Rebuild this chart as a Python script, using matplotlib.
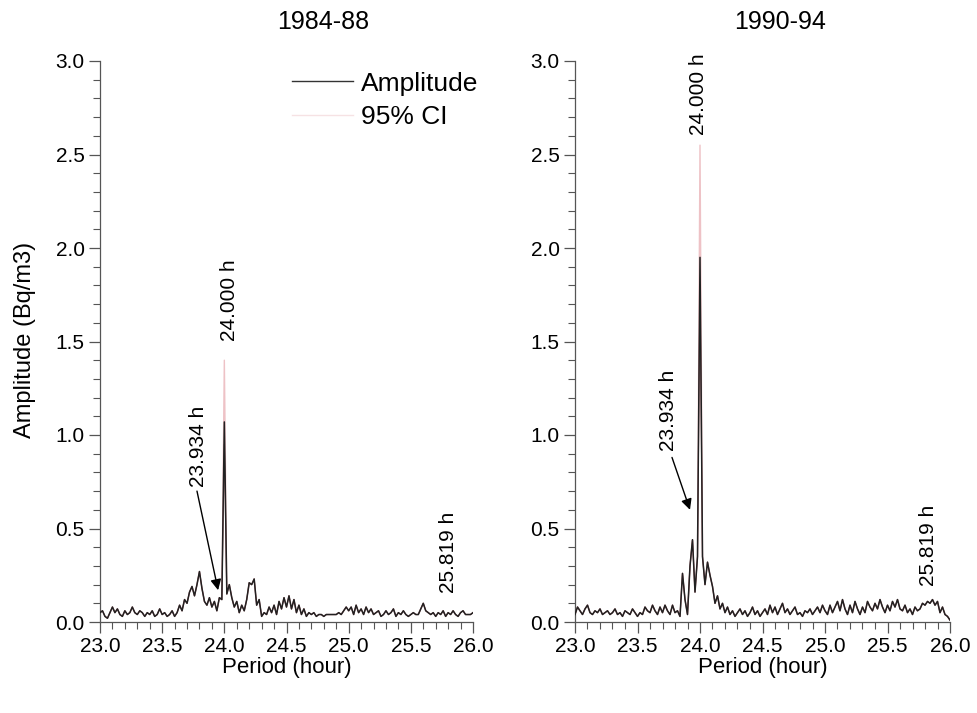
import numpy as np
import matplotlib
matplotlib.use("Agg")
import matplotlib.pyplot as plt
from matplotlib.ticker import MultipleLocator
from matplotlib.lines import Line2D

plt.rcParams['font.family'] = ['Liberation Sans', 'DejaVu Sans']

# Period grid (hours), 0.02 h steps from 23.0 to 26.0
period = np.round(np.linspace(23.0, 26.0, 151), 2)

# 1984-88 amplitude (Bq/m3)
amp_8488 = [
    0.05, 0.06, 0.03, 0.02, 0.05, 0.08, 0.05, 0.07, 0.04, 0.03,
    0.06, 0.04, 0.05, 0.08, 0.05, 0.04, 0.06, 0.05, 0.03, 0.05,
    0.04, 0.06, 0.03, 0.04, 0.07, 0.04, 0.05, 0.03, 0.04, 0.06,
    0.03, 0.05, 0.09, 0.06, 0.12, 0.10, 0.16, 0.19, 0.14, 0.20,
    0.27, 0.18, 0.11, 0.09, 0.13, 0.08, 0.11, 0.06, 0.13, 0.12,
    1.07, 0.15, 0.20, 0.13, 0.08, 0.11, 0.05, 0.09, 0.06, 0.12,
    0.21, 0.20, 0.23, 0.09, 0.12, 0.03, 0.05, 0.04, 0.08, 0.05,
    0.09, 0.04, 0.11, 0.07, 0.13, 0.08, 0.14, 0.07, 0.12, 0.05,
    0.09, 0.04, 0.07, 0.03, 0.05, 0.04, 0.05, 0.03, 0.04, 0.04,
    0.03, 0.04, 0.04, 0.04, 0.04, 0.04, 0.05, 0.04, 0.06, 0.08,
    0.06, 0.08, 0.04, 0.09, 0.05, 0.07, 0.04, 0.08, 0.05, 0.07,
    0.04, 0.05, 0.06, 0.03, 0.04, 0.06, 0.04, 0.05, 0.07, 0.03,
    0.05, 0.04, 0.06, 0.04, 0.03, 0.04, 0.05, 0.04, 0.04, 0.07,
    0.10, 0.06, 0.05, 0.04, 0.05, 0.03, 0.05, 0.04, 0.06, 0.03,
    0.05, 0.04, 0.06, 0.04, 0.03, 0.05, 0.06, 0.04, 0.04, 0.04,
    0.05,
]

# 1990-94 amplitude (Bq/m3)
amp_9094 = [
    0.04, 0.08, 0.06, 0.04, 0.07, 0.09, 0.05, 0.04, 0.06, 0.05,
    0.07, 0.04, 0.05, 0.06, 0.04, 0.05, 0.07, 0.04, 0.05, 0.03,
    0.06, 0.05, 0.04, 0.07, 0.05, 0.03, 0.05, 0.04, 0.08, 0.06,
    0.05, 0.09, 0.06, 0.04, 0.08, 0.05, 0.09, 0.06, 0.04, 0.09,
    0.05, 0.06, 0.03, 0.26, 0.12, 0.04, 0.30, 0.44, 0.16, 0.35,
    1.95, 0.35, 0.20, 0.32, 0.25, 0.19, 0.10, 0.14, 0.07, 0.10,
    0.05, 0.08, 0.04, 0.06, 0.03, 0.05, 0.07, 0.04, 0.06, 0.03,
    0.05, 0.08, 0.04, 0.06, 0.03, 0.05, 0.07, 0.04, 0.09, 0.05,
    0.08, 0.04, 0.07, 0.10, 0.05, 0.07, 0.04, 0.06, 0.08, 0.04,
    0.05, 0.03, 0.06, 0.05, 0.07, 0.04, 0.06, 0.08, 0.05, 0.09,
    0.06, 0.04, 0.09, 0.05, 0.08, 0.11, 0.06, 0.12, 0.07, 0.04,
    0.09, 0.05, 0.11, 0.07, 0.04, 0.08, 0.05, 0.11, 0.08, 0.06,
    0.10, 0.07, 0.12, 0.08, 0.05, 0.09, 0.06, 0.11, 0.08, 0.12,
    0.07, 0.06, 0.09, 0.05, 0.07, 0.04, 0.08, 0.06, 0.07, 0.10,
    0.09, 0.11, 0.10, 0.12, 0.09, 0.11, 0.05, 0.08, 0.04, 0.03,
    0.01,
]

# 95% CI bounds at the 24.000 h peak
ci_peak_8488 = (0.95, 1.40)
ci_peak_9094 = (1.80, 2.55)

panels = [
    dict(title="1984-88", amp=amp_8488, ci=ci_peak_8488,
         rect=[100/977, 1-622/713, 373/977, 561/713], title_x=323,
         lab24=(24.04, 1.72), lab23=(23.79, 0.94), arrow=((23.78, 0.70), (23.95, 0.17)),
         lab25=(25.80, 0.37)),
    dict(title="1990-94", amp=amp_9094, ci=ci_peak_9094,
         rect=[575/977, 1-622/713, 375/977, 561/713], title_x=780,
         lab24=(23.99, 2.82), lab23=(23.745, 1.13), arrow=((23.776, 0.88), (23.92, 0.60)),
         lab25=(25.83, 0.41)),
]

fig = plt.figure(figsize=(9.77, 7.13), dpi=100)
ci_col = "#eec2c6"
spine_col = "#555555"

for i, p in enumerate(panels):
    ax = fig.add_axes(p["rect"])
    amp = np.array(p["amp"])
    k = int(np.argmin(np.abs(period - 24.0)))
    lo = amp.copy()
    hi = amp.copy()
    lo[k], hi[k] = p["ci"]

    ax.plot(period, hi, color=ci_col, lw=1.0, zorder=2)
    ax.plot(period, lo, color="#b0606a", lw=0.8, zorder=2)
    ax.plot(period, amp, color="#222222", lw=1.1, zorder=3)

    ax.set_xlim(23.0, 26.0)
    ax.set_ylim(0.0, 3.0)
    ax.xaxis.set_major_locator(MultipleLocator(0.5))
    ax.xaxis.set_minor_locator(MultipleLocator(0.1))
    ax.yaxis.set_major_locator(MultipleLocator(0.5))
    ax.yaxis.set_minor_locator(MultipleLocator(0.1))
    ax.xaxis.set_major_formatter(plt.FormatStrFormatter("%.1f"))
    ax.yaxis.set_major_formatter(plt.FormatStrFormatter("%.1f"))
    for s in ["top", "right"]:
        ax.spines[s].set_visible(False)
    for s in ["left", "bottom"]:
        ax.spines[s].set_color(spine_col)
        ax.spines[s].set_linewidth(0.9)
    ax.tick_params(which="major", direction="out", length=8, width=0.9,
                   color=spine_col, labelsize=15, pad=3)
    ax.tick_params(which="minor", direction="out", length=5, width=0.8, color=spine_col)

    ax.text(*p["lab24"], "24.000 h", rotation=90, ha="center", va="center", fontsize=15)
    ax.text(*p["lab23"], "23.934 h", rotation=90, ha="center", va="center", fontsize=15)
    ax.text(*p["lab25"], "25.819 h", rotation=90, ha="center", va="center", fontsize=15)
    tail, head = p["arrow"]
    ax.annotate("", xy=head, xytext=tail,
                arrowprops=dict(arrowstyle="-|>", color="black", lw=1.0,
                                mutation_scale=16, shrinkA=0, shrinkB=0))

    fig.text(p["title_x"]/977, 1-22/713, p["title"], ha="center", va="center", fontsize=18)
    fig.text((p["rect"][0] + p["rect"][2]/2), 1-667/713, "Period (hour)",
             ha="center", va="center", fontsize=16)

    if i == 0:
        handles = [Line2D([], [], color="#333333", lw=1.0),
                   Line2D([], [], color="#f6e2e4", lw=1.0)]
        ax.legend(handles, ["Amplitude", "95% CI"], loc="upper left",
                  bbox_to_anchor=(0.515, 0.981), frameon=False, fontsize=19,
                  handlelength=2.3, handletextpad=0.3, borderpad=0,
                  borderaxespad=0, labelspacing=0.37)

fig.text(25/977, 1-340/713, "Amplitude (Bq/m3)", rotation=90,
         ha="center", va="center", fontsize=17)

fig.savefig("out.png", dpi=100)
